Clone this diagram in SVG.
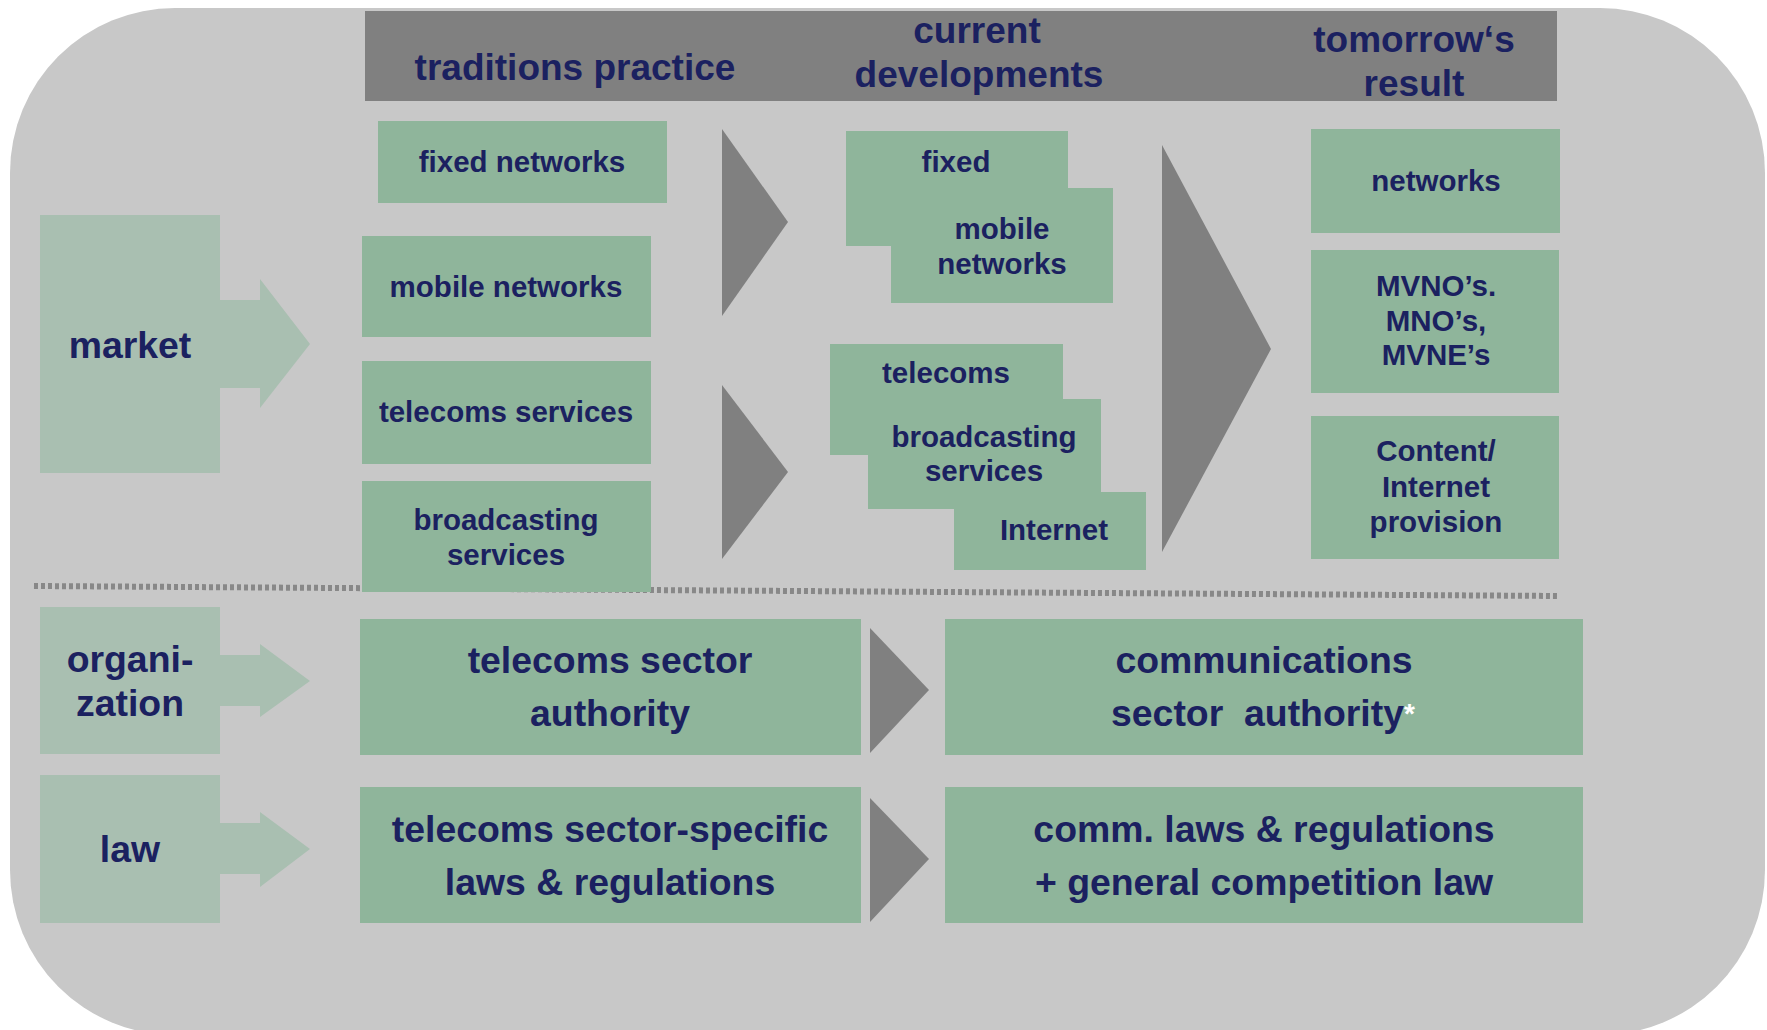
<svg xmlns="http://www.w3.org/2000/svg" width="1767" height="1030" viewBox="0 0 1767 1030">
<style>
.bg{fill:#c8c8c8}
.hdr{fill:#808080}
.box{fill:#8fb59b}
.cat{fill:#a9bfb1}
.tri{fill:#808080}
text{font-family:"Liberation Sans",Arial,sans-serif;font-weight:bold;fill:#1b2160;text-anchor:middle}
.h{font-size:37px}
.s{font-size:29.5px}
.m{font-size:37.4px}
.l{font-size:37.4px}
.star{fill:#ffffff;font-size:28px}
.dots{stroke:#888888;stroke-width:6;stroke-dasharray:4 3;fill:none}
</style>
<rect class="bg" x="10" y="8" width="1755" height="1027" rx="165" ry="165"/>
<g id="header">
<rect class="hdr" x="365" y="11" width="1192" height="90"/>
<text class="h" x="575" y="80">traditions practice</text>
<text class="h" x="977" y="43">current</text>
<text class="h" x="979" y="87">developments</text>
<text class="h" x="1414" y="52">tomorrow‘s</text>
<text class="h" x="1414" y="96">result</text>
</g>
<g id="connectors">
<line class="dots" x1="34" y1="586" x2="1559" y2="596"/>
<polygon class="tri" points="722,129 788,222 722,316"/>
<polygon class="tri" points="722,385 788,472 722,559"/>
<polygon class="tri" points="1162,145 1271,349 1162,552"/>
<polygon class="tri" points="870,628 929,690 870,753"/>
<polygon class="tri" points="870,798 929,859 870,922"/>
</g>
<g id="market">
<polygon class="cat" points="40,215 220,215 220,300 260,300 260,279 310,344 260,408 260,388 220,388 220,473 40,473"/>
<text class="m" x="130" y="358">market</text>
</g>
<g id="organization">
<polygon class="cat" points="40,607 220,607 220,655 260,655 260,644 310,681 260,717 260,706 220,706 220,754 40,754"/>
<text class="m" x="130" y="672">organi-</text>
<text class="m" x="130" y="716">zation</text>
</g>
<g id="law">
<polygon class="cat" points="40,775 220,775 220,823 260,823 260,812 310,849 260,887 260,874 220,874 220,923 40,923"/>
<text class="m" x="130" y="862">law</text>
</g>
<g id="fixed-networks">
<rect class="box" x="378" y="121" width="289" height="82"/>
<text class="s" x="522" y="172">fixed networks</text>
</g>
<g id="mobile-networks">
<rect class="box" x="362" y="236" width="289" height="101"/>
<text class="s" x="506" y="297">mobile networks</text>
</g>
<g id="telecoms-services">
<rect class="box" x="362" y="361" width="289" height="103"/>
<text class="s" x="506" y="422">telecoms services</text>
</g>
<g id="broadcasting-services">
<rect class="box" x="362" y="481" width="289" height="111"/>
<text class="s" x="506" y="530">broadcasting</text>
<text class="s" x="506" y="565">services</text>
</g>
<g id="cur-fixed">
<rect class="box" x="846" y="131" width="222" height="115"/>
<text class="s" x="956" y="172">fixed</text>
</g>
<g id="cur-mobile">
<rect class="box" x="891" y="188" width="222" height="115"/>
<text class="s" x="1002" y="239">mobile</text>
<text class="s" x="1002" y="274">networks</text>
</g>
<g id="cur-telecoms">
<rect class="box" x="830" y="344" width="233" height="111"/>
<text class="s" x="946" y="383">telecoms</text>
</g>
<g id="cur-broadcasting">
<rect class="box" x="868" y="399" width="233" height="110"/>
<text class="s" x="984" y="447">broadcasting</text>
<text class="s" x="984" y="481">services</text>
</g>
<g id="cur-internet">
<rect class="box" x="954" y="492" width="192" height="78"/>
<text class="s" x="1054" y="540">Internet</text>
</g>
<g id="res-networks">
<rect class="box" x="1311" y="129" width="249" height="104"/>
<text class="s" x="1436" y="191">networks</text>
</g>
<g id="res-mvno">
<rect class="box" x="1311" y="250" width="248" height="143"/>
<text class="s" x="1436" y="296">MVNO’s.</text>
<text class="s" x="1436" y="331">MNO’s,</text>
<text class="s" x="1436" y="365">MVNE’s</text>
</g>
<g id="res-content">
<rect class="box" x="1311" y="416" width="248" height="143"/>
<text class="s" x="1436" y="461">Content/</text>
<text class="s" x="1436" y="497">Internet</text>
<text class="s" x="1436" y="532">provision</text>
</g>
<g id="telecoms-authority">
<rect class="box" x="360" y="619" width="501" height="136"/>
<text class="l" x="610" y="673">telecoms sector</text>
<text class="l" x="610" y="726">authority</text>
</g>
<g id="comm-authority">
<rect class="box" x="945" y="619" width="638" height="136"/>
<text class="l" x="1264" y="673">communications</text>
<text class="l" x="1111" y="726" style="text-anchor:start" xml:space="preserve">sector  authority<tspan class="star" dy="-3">*</tspan></text>
</g>
<g id="telecoms-laws">
<rect class="box" x="360" y="787" width="501" height="136"/>
<text class="l" x="610" y="842">telecoms sector-specific</text>
<text class="l" x="610" y="895">laws &amp; regulations</text>
</g>
<g id="comm-laws">
<rect class="box" x="945" y="787" width="638" height="136"/>
<text class="l" x="1264" y="842">comm. laws &amp; regulations</text>
<text class="l" x="1264" y="895">+ general competition law</text>
</g>
</svg>
